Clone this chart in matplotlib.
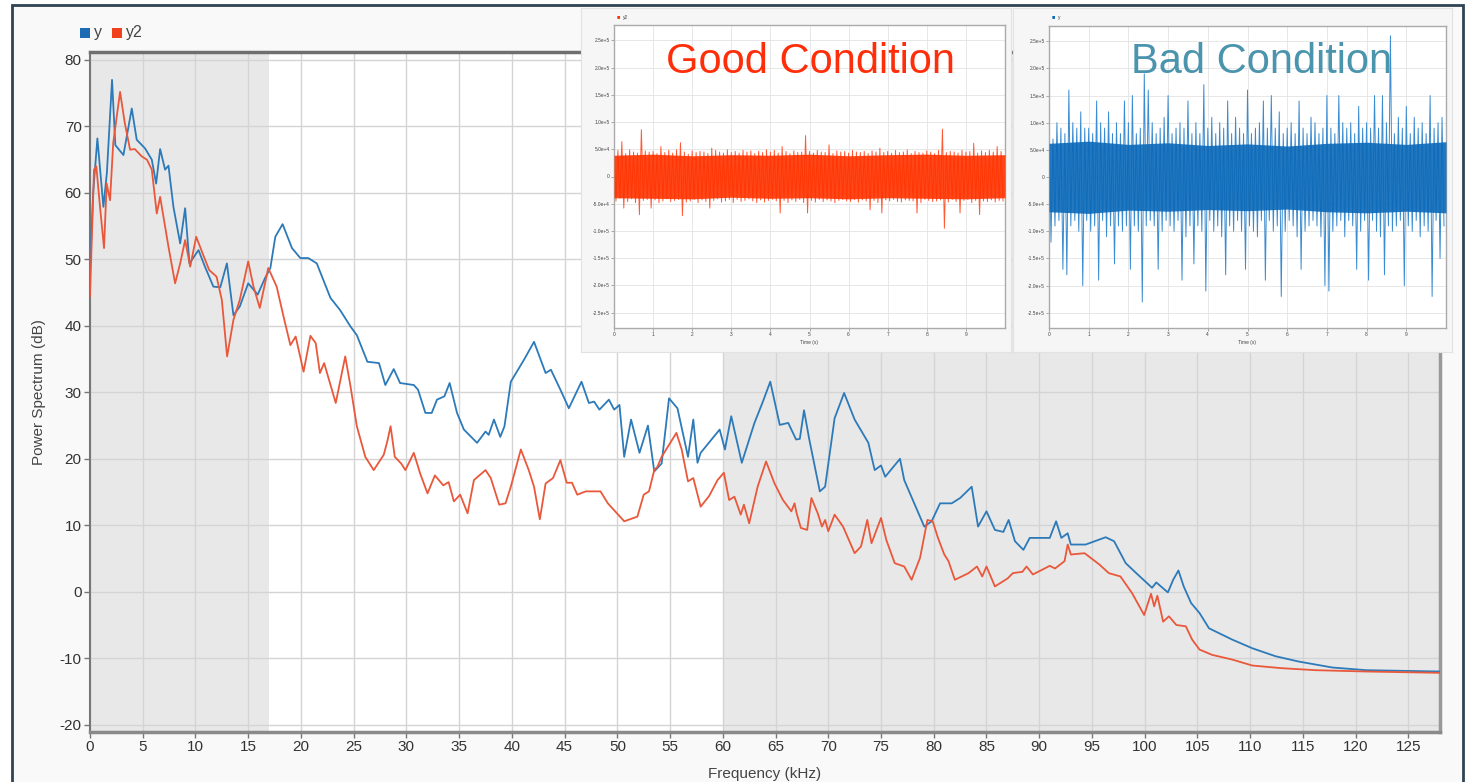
import matplotlib
matplotlib.use('Agg')
import matplotlib.pyplot as plt
from matplotlib.patches import Rectangle
from matplotlib.ticker import FuncFormatter

# ---- power spectrum, series "y" (bad condition) ----
freq_y = [0.0, 0.3, 0.7, 1.27, 1.6, 2.09, 2.4, 3.17, 3.96, 4.43, 5.22, 5.86, 6.27, 6.65, 7.12,
          7.44, 7.91, 8.55, 9.02, 9.43, 10.29, 10.9, 11.7, 12.35, 12.98, 13.6, 14.2, 15.0, 15.9,
          16.6, 17.1, 17.57, 18.26, 19.15, 19.94, 20.7, 21.5, 22.8, 23.7, 24.7, 25.3, 26.3, 27.4,
          28.0, 28.8, 29.4, 30.7, 31.1, 31.8, 32.4, 32.9, 33.6, 34.1, 34.8, 35.45, 36.7, 37.5,
          37.8, 38.3, 38.9, 39.3, 39.9, 41.15, 42.1, 43.2, 43.7, 44.6, 45.4, 46.6, 47.3, 47.8,
          48.3, 49.2, 49.7, 50.2, 50.65, 51.3, 52.1, 52.9, 53.5, 54.2, 54.9, 55.7, 56.7, 57.2,
          57.6, 57.9, 59.7, 60.2, 60.8, 61.8, 63.0, 63.8, 64.5, 65.4, 66.2, 66.95, 67.3, 67.7,
          68.2, 69.2, 69.7, 70.6, 71.5, 72.5, 73.8, 74.4, 75.0, 75.4, 76.8, 77.2, 79.1, 79.8,
          80.6, 81.7, 82.5, 83.6, 84.2, 85.0, 85.8, 86.6, 87.1, 87.7, 88.5, 89.1, 90.2, 91.0,
          91.6, 92.1, 92.7, 93.0, 94.4, 96.3, 97.1, 98.2, 99.2, 100.7, 101.1, 102.2, 102.7,
          103.2, 103.7, 104.4, 105.2, 106.1, 108.3, 110.2, 112.4, 114.6, 117.8, 121.0, 128.0]
pow_y = [49.0, 60.0, 68.2, 57.9, 63.0, 77.0, 67.2, 65.7, 72.7, 68.0, 66.7, 65.0, 61.4, 66.6, 63.5,
         64.1, 57.9, 52.4, 57.7, 49.4, 51.4, 48.9, 45.9, 45.8, 49.4, 41.6, 42.9, 46.4, 44.7,
         47.2, 48.7, 53.4, 55.3, 51.7, 50.2, 50.2, 49.4, 44.2, 42.4, 39.9, 38.6, 34.6, 34.4,
         31.1, 33.5, 31.4, 31.1, 30.4, 26.9, 26.9, 28.9, 29.4, 31.4, 26.9, 24.4, 22.4, 24.1,
         23.6, 25.9, 23.3, 24.9, 31.6, 34.9, 37.6, 32.9, 33.4, 30.4, 27.6, 31.6, 28.4, 28.6,
         27.4, 28.9, 27.4, 28.1, 20.3, 25.9, 20.9, 25.0, 18.1, 19.3, 29.1, 27.6, 20.3, 25.9,
         19.4, 20.9, 24.4, 21.4, 26.4, 19.4, 25.4, 28.6, 31.6, 25.1, 25.4, 22.9, 23.0, 27.3,
         22.9, 15.1, 15.8, 26.1, 29.9, 25.9, 22.4, 18.3, 19.0, 17.3, 20.0, 16.8, 9.8, 10.6,
         13.3, 13.3, 14.1, 15.8, 9.8, 12.1, 9.3, 9.0, 10.8, 7.6, 6.3, 8.1, 8.1, 8.1,
         10.6, 8.1, 8.8, 7.1, 7.1, 8.2, 7.6, 4.3, 2.8, 0.6, 1.4, -0.1, 1.8,
         3.2, 0.8, -1.7, -3.2, -5.5, -7.2, -8.5, -9.7, -10.5, -11.4, -11.8, -12.0]

# ---- power spectrum, series "y2" (good condition) ----
freq_y2 = [0.0, 0.38, 0.6, 0.95, 1.33, 1.58, 1.9, 2.2, 2.85, 3.3, 3.8, 4.25, 4.9, 5.4, 5.86,
           6.33, 6.65, 7.44, 8.07, 8.55, 9.02, 9.5, 10.07, 10.8, 11.3, 12.0, 12.5, 13.0, 13.6,
           14.2, 15.0, 15.5, 16.1, 16.9, 17.7, 18.35, 19.0, 19.5, 20.25, 20.9, 21.4, 21.8, 22.2,
           23.3, 24.2, 24.7, 25.3, 26.1, 26.9, 27.85, 28.2, 28.5, 28.9, 29.5, 29.9, 30.7, 31.3,
           32.0, 32.7, 33.5, 34.0, 34.5, 35.1, 35.8, 36.4, 37.5, 38.0, 38.8, 39.4, 39.9, 40.85,
           41.6, 42.1, 42.65, 43.2, 43.9, 44.6, 45.2, 45.7, 46.2, 47.0, 48.4, 49.1, 50.65, 51.9,
           52.5, 53.0, 53.5, 53.8, 54.2, 55.6, 56.1, 56.7, 57.2, 57.9, 58.7, 59.5, 60.1, 60.6,
           61.1, 61.7, 62.0, 62.5, 63.3, 64.1, 64.9, 65.7, 66.5, 66.8, 67.0, 67.4, 68.0, 68.4,
           69.0, 69.4, 69.7, 70.0, 70.6, 71.4, 72.5, 73.1, 73.7, 74.1, 75.0, 75.5, 76.3, 77.2,
           77.9, 78.7, 79.4, 79.9, 80.4, 81.0, 81.4, 82.0, 83.3, 84.1, 84.6, 85.0, 85.8, 87.0,
           87.5, 88.4, 88.8, 89.4, 91.0, 91.5, 92.4, 92.7, 93.0, 94.3, 95.7, 96.6, 97.7, 98.8,
           99.95, 100.6, 100.9, 101.2, 101.75, 102.3, 103.0, 103.9, 104.5, 105.2, 106.4, 108.3,
           110.2, 113.0, 116.2, 121.0, 128.0]
pow_y2 = [44.5, 63.5, 64.0, 57.9, 51.7, 61.4, 58.9, 67.5, 75.2, 70.5, 66.5, 66.6, 65.5, 65.0, 63.5,
          56.9, 59.4, 51.9, 46.4, 49.4, 52.9, 48.9, 53.4, 50.4, 48.4, 47.4, 43.9, 35.4, 40.9,
          43.9, 49.7, 45.9, 42.7, 48.7, 45.9, 41.4, 37.1, 38.4, 33.1, 38.5, 37.4, 32.9, 34.4,
          28.4, 35.4, 30.9, 24.9, 20.3, 18.3, 20.6, 22.7, 24.9, 20.3, 19.3, 18.3, 20.9, 17.8,
          14.8, 17.5, 16.0, 16.5, 13.6, 14.6, 11.8, 16.8, 18.3, 17.1, 13.1, 13.3, 15.8, 21.4,
          18.3, 15.8, 10.9, 16.3, 17.1, 19.8, 16.4, 16.4, 14.6, 15.1, 15.1, 13.3, 10.6, 11.3,
          14.6, 15.1, 18.3, 18.8, 20.3, 23.9, 21.4, 16.6, 17.1, 12.8, 14.4, 16.8, 17.9, 13.8,
          14.3, 11.6, 13.1, 10.3, 15.8, 19.6, 16.3, 13.8, 12.1, 13.3, 11.8, 9.6, 9.3, 14.1,
          11.8, 9.8, 10.8, 9.1, 11.6, 9.8, 5.8, 6.8, 10.8, 7.3, 11.1, 7.8, 4.3, 3.8,
          1.8, 5.1, 10.8, 10.6, 8.1, 5.6, 4.6, 1.8, 2.8, 3.8, 2.3, 3.8, 0.8, 2.0,
          2.8, 3.0, 3.8, 2.6, 3.9, 3.5, 4.6, 7.1, 5.6, 5.8, 4.1, 2.8, 2.3, -0.2,
          -3.5, -0.3, -2.2, -0.6, -4.5, -3.7, -5.0, -5.2, -7.2, -8.7, -9.5, -10.2,
          -11.1, -11.5, -11.8, -12.0, -12.2]

# ---- time signals (insets), amplitudes in units of 1e4, one sample per 0.05 s ----
sample_dt = 0.05
good_sig = [4, -4.5, 4.8, -4, 6.4, -5.8, 4.2, -4.6, 4.9, -4.1, 4.5, -4.8, 4.3, -7.0, 8.6, -4.4, 4.7, -4.2, 4.5, -5.8,
            4.6, -4.3, 4.2, -4.8, 5.5, -4.5, 4.4, -4.1, 4.8, -4.6, 4.3, -4.4, 4.9, -4.2, 6.2, -7.2, 4.5, -4.7, 4.1, -4.5,
            4.7, -4.2, 4.4, -4.8, 4.6, -4.3, 4.5, -4.6, 4.2, -5.8, 5.2, -4.4, 4.8, -4.1, 4.5, -4.7, 4.3, -4.5, 4.9, -4.2,
            4.4, -4.8, 4.6, -4.2, 4.3, -4.6, 4.8, -4.4, 4.5, -4.1, 4.7, -4.5, 4.2, -4.8, 4.6, -4.3, 4.4, -4.7, 4.9, -4.4,
            4.5, -4.2, 4.8, -4.5, 4.3, -6.7, 5.5, -4.4, 4.6, -4.8, 4.2, -4.3, 4.7, -4.6, 4.4, -4.2, 4.5, -4.8, 7.5, -6.7,
            4.6, -4.4, 4.3, -4.7, 4.8, -4.2, 4.5, -4.6, 4.4, -4.3, 5.8, -4.5, 4.2, -4.8, 4.7, -4.4, 4.5, -4.2, 4.6, -4.5,
            4.3, -4.6, 4.8, -4.2, 4.5, -4.7, 4.4, -4.3, 4.6, -4.5, 4.2, -6.1, 4.7, -4.4, 4.5, -4.8, 5.2, -6.7, 4.4, -4.3,
            4.6, -4.5, 4.3, -4.2, 4.8, -4.6, 4.4, -4.7, 4.5, -4.3, 4.9, -4.4, 4.2, -4.5, 4.6, -6.7, 4.4, -4.8, 4.3, -4.2,
            4.7, -4.4, 4.5, -4.6, 4.2, -4.5, 4.8, -4.3, 8.7, -9.5, 4.4, -4.7, 4.6, -4.2, 4.5, -4.6, 4.3, -6.7, 4.8, -4.4,
            4.5, -4.2, 4.6, -4.8, 6.1, -4.4, 4.3, -7.0, 4.7, -4.5, 4.4, -4.6, 4.8, -4.3, 4.5, -4.7, 5.5, -4.4, 4.6, -4.5]
bad_sig = [8, -12, 7, -9, 10, -8, 9, -17, 8, -18, 16, -9, 10, -8, 9, -10, 12, -20, 9, -8,
           9, -10, 8, -9, 14, -19, 10, -8, 9, -11, 12, -9, 8, -16, 10, -9, 8, -10, 14, -9,
           10, -17, 15, -9, 8, -10, 9, -23, 19, -9, 16, -8, 10, -9, 8, -17, 9, -10, 11, -8,
           15, -9, 8, -10, 9, -8, 10, -19, 9, -11, 14, -9, 8, -16, 10, -9, 8, -10, 17, -21,
           9, -8, 11, -10, 8, -9, 10, -11, 9, -18, 14, -9, 8, -10, 11, -8, 9, -10, 8, -17,
           16, -9, 8, -10, 9, -11, 10, -8, 14, -19, 9, -8, 15, -10, 9, -9, 12, -22, 8, -10,
           9, -8, 10, -9, 8, -11, 14, -17, 9, -10, 8, -9, 11, -8, 10, -9, 8, -11, 9, -20,
           15, -21, 9, -10, 8, -9, 15, -8, 10, -11, 9, -8, 10, -9, 8, -17, 13, -10, 9, -8,
           10, -19, 9, -8, 15, -10, 9, -11, 15, -18, 10, -9, 26, -10, 8, -9, 11, -8, 9, -20,
           13, -9, 8, -10, 11, -8, 9, -11, 10, -9, 8, -10, 15, -22, 9, -8, 10, -15, 11, -9]
# dense core of each trace (envelope, units of 1e4)
band_t = [0, 1, 2, 3, 4, 5, 6, 7, 8, 9, 10]
good_hi = [3.9, 4.1, 3.8, 4.0, 3.9, 4.1, 3.8, 4.0, 4.1, 3.9, 4.0]
good_lo = [-3.9, -4.0, -4.1, -3.8, -4.0, -3.9, -4.1, -3.9, -4.0, -4.1, -3.9]
bad_hi = [6.2, 6.6, 6.0, 6.3, 5.8, 6.1, 5.7, 6.2, 6.4, 6.0, 6.5]
bad_lo = [-6.4, -6.7, -6.1, -6.3, -6.0, -6.2, -5.9, -6.4, -6.6, -6.3, -6.6]

x_ticks = list(range(0, 126, 5))
y_ticks = list(range(-20, 81, 10))
sig_ticks = [2.5e5, 2.0e5, 1.5e5, 1.0e5, 0.5e5, 0, -0.5e5, -1.0e5, -1.5e5, -2.0e5, -2.5e5]

plt.rcParams['font.family'] = ['Liberation Sans', 'DejaVu Sans']
plt.rcParams['axes.unicode_minus'] = False

W, H = 1466, 782
def box(x0, y0, x1, y1):
    return [x0 / W, 1 - y1 / H, (x1 - x0) / W, (y1 - y0) / H]

fig = plt.figure(figsize=(W / 100, H / 100), dpi=100)
fig.patch.set_facecolor('white')
fig.add_artist(Rectangle((12 / W, -0.01), (1463 - 12) / W, 1.01 - 5 / H, transform=fig.transFigure,
                         facecolor='#f9f9f9', edgecolor='#2f4353', lw=2, zorder=-5))

# ---- main spectrum ----
ax = fig.add_axes(box(90, 52, 1440, 732))
ax.set_facecolor('white')
ax.axvspan(0, 17, color='#e8e8e8', zorder=0, lw=0)
ax.axvspan(60, 128, color='#e8e8e8', zorder=0, lw=0)
ax.plot(freq_y, pow_y, color='#2d7ab9', lw=1.3, zorder=3)
ax.plot(freq_y2, pow_y2, color='#e9583b', lw=1.3, zorder=4)
ax.set_xlim(0, 128)
ax.set_ylim(-21.1, 81.2)
ax.set_xticks(x_ticks)
ax.set_yticks(y_ticks)
ax.grid(True, color='#d4d4d4', lw=1, zorder=1)
ax.set_axisbelow(True)
ax.tick_params(axis='both', length=4, width=1, color='#777777', labelsize=11, labelcolor='#333333', pad=2)
ax.spines['top'].set_color('#6f6f6f')
ax.spines['top'].set_linewidth(2.5)
ax.spines['bottom'].set_color('#8a8a8a')
ax.spines['bottom'].set_linewidth(2.5)
ax.spines['right'].set_color('#999999')
ax.spines['right'].set_linewidth(2.5)
ax.spines['left'].set_color('#777777')
ax.spines['left'].set_linewidth(1.5)
ax.set_xlabel('Frequency (kHz)', fontsize=11, color='#444444', labelpad=9)
ax.set_ylabel('Power Spectrum (dB)', fontsize=11, color='#444444', labelpad=10)

# legend above the plot, top-left
for x0, col, lab in [(80, '#1d6bb5', 'y'), (112, '#f1401c', 'y2')]:
    fig.add_artist(Rectangle((x0 / W, 1 - 38 / H), 10 / W, 10 / H, transform=fig.transFigure,
                             facecolor=col, lw=0))
    fig.text((x0 + 14) / W, 1 - 33 / H, lab, fontsize=11.5, color='#444444', va='center')

# ---- insets ----
def sig_fmt(v, pos):
    if v == 0:
        return '0'
    m, e = f'{v:.1e}'.split('e')
    return f'{m}e{int(e):+d}'

def inset(panel, inner, sig, hi, lo, core, spike, name, title, tcolor, tx):
    pa = fig.add_axes(box(*panel))
    pa.set_facecolor('#f6f6f6')
    pa.set_xticks([])
    pa.set_yticks([])
    for s in pa.spines.values():
        s.set_color('#e2e2e2')
    ia = fig.add_axes(box(*inner))
    ia.set_facecolor('white')
    t = [i * sample_dt for i in range(len(sig))]
    ia.plot(t, [v * 1e4 for v in sig], color=spike, lw=0.7, zorder=2)
    ia.fill_between(band_t, [v * 1e4 for v in hi], [v * 1e4 for v in lo], color=core, lw=0,
                    alpha=0.9, zorder=3)
    ia.set_xlim(0, 10)
    ia.set_ylim(-2.78e5, 2.78e5)
    ia.set_xticks(range(0, 10))
    ia.set_yticks(sig_ticks)
    ia.yaxis.set_major_formatter(FuncFormatter(sig_fmt))
    ia.tick_params(labelsize=3.5, length=2, width=0.5, color='#888888', labelcolor='#444444', pad=1)
    ia.grid(True, color='#e3e3e3', lw=0.6)
    ia.set_axisbelow(True)
    for s in ia.spines.values():
        s.set_color('#aaaaaa')
        s.set_linewidth(1)
    ia.set_xlabel('Time (s)', fontsize=3.5, color='#444444', labelpad=2)
    lx = inner[0] + 3
    fig.text(lx / W, 1 - 17 / H, '\u25a0', fontsize=4, color=core, va='center')
    fig.text((lx + 6) / W, 1 - 17 / H, name, fontsize=3.5, color='#444444', va='center')
    fig.text(tx / W, 1 - 73 / H, title, fontsize=30, color=tcolor, ha='center', va='baseline')

inset((581, 8, 1011, 352), (614, 25, 1005, 328), good_sig, good_hi, good_lo,
      '#ff3300', '#ff5a36', 'y2', 'Good Condition', '#ff2e0a', 810)
inset((1013, 8, 1452, 352), (1049, 26, 1446, 328), bad_sig, bad_hi, bad_lo,
      '#0b69b8', '#3a8bd0', 'y', 'Bad Condition', '#4b94ae', 1262)

fig.savefig('out.png', dpi=100)
